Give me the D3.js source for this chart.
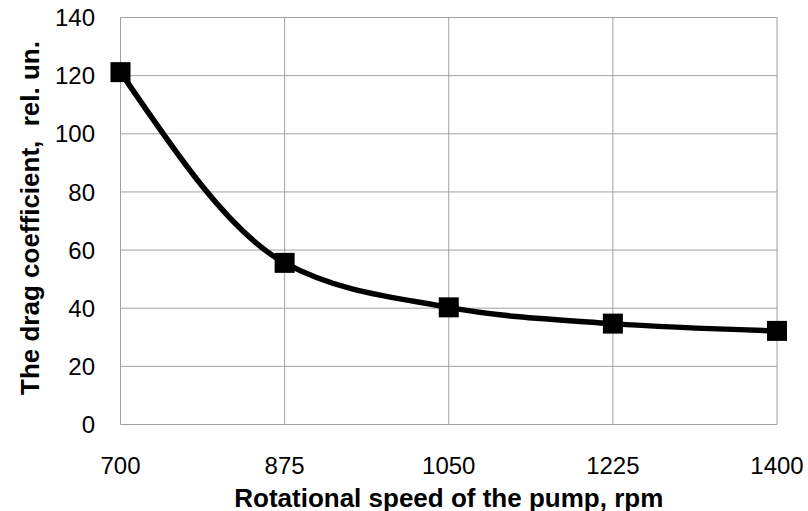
<!DOCTYPE html>
<html>
<head>
<meta charset="utf-8">
<script src="https://cdn.jsdelivr.net/npm/d3@7"></script>
<style>
  body { margin: 0; background: #fff; }
  text { font-family: Arial, 'Liberation Sans', sans-serif; fill: #000; }
</style>
</head>
<body>
<div id="chart"></div>
<script>
let speeds = [700, 875, 1050, 1225, 1400]
let drag = [121.2, 55.6, 40.3, 34.7, 32.2]
let xTicks = [700, 875, 1050, 1225, 1400]
let yTicks = [0, 20, 40, 60, 80, 100, 120, 140]

let margin = { top: 17.5, left: 120.5, right: 31, bottom: 86.5 }
let width = 808 - margin.left - margin.right
let height = 511 - margin.top - margin.bottom

let svg = d3
  .select('#chart')
  .append('svg')
  .attr('width', 808)
  .attr('height', 511)
  .append('g')
  .attr('transform', 'translate(' + margin.left + ',' + margin.top + ')')

let x = d3.scaleLinear().domain([700, 1400]).range([0, width])
let y = d3.scaleLinear().domain([0, 140]).range([height, 0])

// grid
svg
  .selectAll('.hgrid')
  .data(yTicks)
  .enter()
  .append('line')
  .attr('class', 'hgrid')
  .attr('x1', 0)
  .attr('x2', width)
  .attr('y1', d => y(d))
  .attr('y2', d => y(d))
  .attr('stroke', '#a0a0a0')
  .attr('stroke-width', 1)

svg
  .selectAll('.vgrid')
  .data(xTicks)
  .enter()
  .append('line')
  .attr('class', 'vgrid')
  .attr('x1', d => x(d))
  .attr('x2', d => x(d))
  .attr('y1', 0)
  .attr('y2', height)
  .attr('stroke', '#a0a0a0')
  .attr('stroke-width', 1)

// tick labels
svg
  .selectAll('.ylab')
  .data(yTicks)
  .enter()
  .append('text')
  .attr('class', 'ylab')
  .attr('x', -25.5)
  .attr('y', d => y(d))
  .attr('dy', '0.36em')
  .attr('text-anchor', 'end')
  .attr('font-size', 24)
  .text(d => d)

svg
  .selectAll('.xlab')
  .data(xTicks)
  .enter()
  .append('text')
  .attr('class', 'xlab')
  .attr('x', d => x(d))
  .attr('y', height + 49.5)
  .attr('text-anchor', 'middle')
  .attr('font-size', 24)
  .text(d => d)

// axis titles
svg
  .append('text')
  .attr('x', width / 2)
  .attr('y', height + 82)
  .attr('text-anchor', 'middle')
  .attr('font-size', 26)
  .attr('font-weight', 'bold')
  .text('Rotational speed of the pump, rpm')

svg
  .append('text')
  .attr('transform', 'translate(' + (-82) + ',' + (height / 2 - 3) + ') rotate(-90)')
  .attr('text-anchor', 'middle')
  .attr('font-size', 26)
  .attr('font-weight', 'bold')
  .style('white-space', 'pre')
  .text('The drag coefficient,  rel. un.')

// line
let points = speeds.map((s, i) => [s, drag[i]])

let line = d3
  .line()
  .x(d => x(d[0]))
  .y(d => y(d[1]))
  .curve(d3.curveMonotoneX)

svg
  .append('path')
  .datum(points)
  .attr('d', line)
  .attr('fill', 'none')
  .attr('stroke', '#000')
  .attr('stroke-width', 5.5)
  .attr('stroke-linejoin', 'round')

svg
  .selectAll('.marker')
  .data(points)
  .enter()
  .append('rect')
  .attr('class', 'marker')
  .attr('x', d => x(d[0]) - 10)
  .attr('y', d => y(d[1]) - 10)
  .attr('width', 20)
  .attr('height', 20)
  .attr('fill', '#000')
</script>
</body>
</html>
